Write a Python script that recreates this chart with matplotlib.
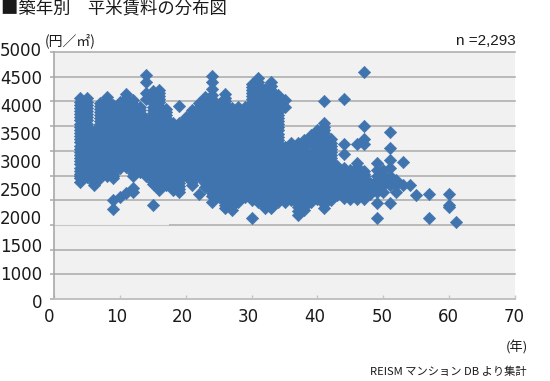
import matplotlib
matplotlib.use("Agg")
from matplotlib import pyplot as plt

plt.rcParams['font.family'] = ['Noto Sans CJK JP', 'DejaVu Sans']

ages = [4, 5, 6, 7, 8, 9, 10, 11, 12, 13, 14, 15, 16, 17, 18, 19, 20, 21, 22, 23, 24, 25, 26, 27, 28, 29, 30, 31, 32,
        33, 34, 35, 36, 37, 38, 39, 40, 41, 42, 43, 44, 45, 46, 47, 48, 49, 50, 51, 52, 53, 54, 55, 57, 60, 61]

# rent values per building age (dense middle is estimated)
rents = [
    [4060, 3930, 3800, 3680, 3550, 3420, 3300, 3170, 3040, 2920, 2790, 2660, 2540, 2450, 2360],
    [4060, 3930, 3800, 3680, 3550, 3420, 3300, 3170, 3040, 2920, 2790, 2660, 2560, 2465],
    [3410, 3300, 3170, 3040, 2920, 2790, 2660, 2540, 2410, 2300],
    [3960, 3850, 3720, 3600, 3480, 3360, 3240, 3120, 2990, 2860, 2740, 2610, 2520, 2440],
    [4090, 3960, 3830, 3700, 3580, 3450, 3320, 3190, 3060, 2930, 2800, 2680, 2590, 2500],
    [3920, 3800, 3680, 3550, 3420, 3300, 3170, 3040, 2920, 2790, 2660, 2540, 2440, 2000, 1820],
    [3990, 3860, 3730, 3600, 3480, 3360, 3230, 3110, 2980, 2860, 2740, 2650, 2070],
    [4140, 4010, 3880, 3750, 3620, 3500, 3370, 3240, 3120, 2990, 2860, 2740, 2670, 2140],
    [4020, 3890, 3760, 3640, 3510, 3380, 3260, 3130, 3000, 2880, 2750, 2620, 2500, 2240, 2170],
    [3885, 3760, 3640, 3510, 3380, 3260, 3130, 3000, 2880, 2750, 2650, 2570],
    [4525, 4390, 4160, 4040, 3650, 3520, 3400, 3270, 3140, 3010, 2890, 2760, 2630, 2500],
    [4220, 4090, 3960, 3830, 3700, 3580, 3450, 3320, 3190, 3060, 2930, 2800, 2680, 2550, 2430, 2320, 1900],
    [4235, 4110, 3980, 3850, 3720, 3590, 3470, 3340, 3210, 3080, 2950, 2830, 2700, 2570, 2440, 2320, 2200],
    [3850, 3720, 3590, 3470, 3340, 3210, 3080, 2950, 2830, 2700, 2570, 2440, 2300],
    [3555, 3430, 3300, 3170, 3040, 2920, 2790, 2660, 2540, 2410, 2300, 2200],
    [3900, 3555, 3430, 3300, 3170, 3040, 2920, 2790, 2660, 2540, 2410, 2280, 2160],
    [3680, 3550, 3420, 3300, 3170, 3040, 2920, 2790, 2660, 2580, 2500],
    [3820, 3690, 3560, 3430, 3310, 3180, 3050, 2920, 2800, 2670, 2540, 2420, 2300],
    [3960, 3830, 3700, 3580, 3450, 3320, 3190, 3060, 2930, 2800, 2680, 2580, 2480, 2120],
    [4090, 3960, 3830, 3700, 3580, 3450, 3320, 3190, 3060, 2930, 2800, 2680, 2550, 2410, 2270],
    [4505, 4390, 4260, 4120, 3990, 3860, 3730, 3610, 3480, 3350, 3220, 3090, 2970, 2840, 2710, 2580, 2460, 2330, 2200, 2080, 1965],
    [3950, 3820, 3690, 3560, 3430, 3310, 3180, 3050, 2920, 2800, 2670, 2540, 2420, 2290, 2180, 2070],
    [4140, 4010, 3880, 3750, 3620, 3500, 3370, 3240, 3120, 2990, 2860, 2740, 2610, 2480, 2360, 2230, 2100, 1970, 1835],
    [3860, 3730, 3600, 3480, 3360, 3230, 3110, 2980, 2860, 2740, 2610, 2480, 2360, 2230, 2100, 1970, 1800],
    [3885, 3760, 3640, 3510, 3380, 3260, 3130, 3000, 2880, 2750, 2620, 2500, 2370, 2240, 2110, 1965],
    [3885, 3760, 3640, 3510, 3380, 3260, 3130, 3000, 2880, 2750, 2620, 2500, 2370, 2240, 2150, 2070],
    [4360, 4240, 4110, 3980, 3850, 3720, 3590, 3470, 3340, 3210, 3080, 2950, 2830, 2700, 2570, 2440, 2320, 2190, 2090, 2000, 1635],
    [4465, 4340, 4210, 4080, 3950, 3820, 3700, 3570, 3440, 3310, 3180, 3060, 2930, 2800, 2670, 2540, 2420, 2290, 2160, 2060, 1965],
    [4260, 4130, 4000, 3880, 3750, 3620, 3500, 3370, 3240, 3120, 2990, 2860, 2740, 2610, 2480, 2360, 2230, 2100, 1970, 1835],
    [4390, 4240, 4110, 3980, 3850, 3720, 3590, 3470, 3340, 3210, 3080, 2950, 2830, 2700, 2570, 2440, 2320, 2190, 2060, 1940, 1835],
    [4120, 3990, 3860, 3730, 3610, 3480, 3350, 3220, 3090, 2970, 2840, 2710, 2580, 2460, 2330, 2200, 2080, 1965],
    [4020, 3880, 3080, 2950, 2830, 2700, 2570, 2440, 2320, 2190, 2060, 1965],
    [3150, 3020, 2900, 2770, 2640, 2520, 2390, 2260, 2130, 2000],
    [3150, 3020, 2900, 2770, 2640, 2520, 2390, 2260, 2130, 2000, 1860, 1695],
    [3210, 3080, 2950, 2830, 2700, 2570, 2440, 2320, 2190, 2060, 1930, 1800],
    [3310, 3180, 2950, 2830, 2700, 2570, 2440, 2320, 2190, 2060, 1965],
    [3430, 3300, 3170, 3040, 2920, 2790, 2660, 2540, 2410, 2280, 2150, 2030],
    [4010, 3555, 3430, 3300, 3170, 3040, 2920, 2790, 2660, 2540, 2410, 2280, 2150, 2000, 1835],
    [3230, 3100, 2980, 2860, 2740, 2610, 2480, 2360, 2230, 2100, 2000],
    [2700, 2570, 2440, 2320, 2190, 2100],
    [4040, 3130, 2945, 2650, 2530, 2400, 2280, 2160, 2050],
    [2610, 2480, 2360, 2230, 2120, 2030],
    [3130, 2745, 2610, 2480, 2360, 2230, 2120, 2030],
    [4605, 3500, 3245, 3130, 2600, 2480, 2360, 2230, 2120, 2030],
    [2340, 2240, 2130],
    [2745, 2610, 2500, 2400, 2300, 2170, 1940, 1635],
    [2610, 2500, 2400, 2300, 2170],
    [3380, 3050, 2810, 2645, 2500, 2400, 2300, 1940],
    [2400, 2300, 2170],
    [2765, 2300],
    [2300],
    [2100],
    [2120, 1635],
    [2120, 1900, 1860],
    [1550],
]

# more of the estimated points inside the solid part of the cloud
dense_ages = [4, 5, 6, 7, 8, 9, 10, 11, 12, 13, 14, 15, 16, 17, 18, 19, 20, 21, 22, 23, 24, 25, 26, 27, 28, 29, 30, 31,
              32, 33, 34, 36, 37, 38, 39, 40, 41, 42, 43, 44, 45, 46, 47]
dense_rents = [
    [3995, 3865, 3740, 3615, 3485, 3360, 3235, 3105, 2980, 2855, 2725, 2600, 2495],
    [3995, 3865, 3740, 3615, 3485, 3360, 3235, 3105, 2980, 2855, 2725, 2610],
    [3355, 3235, 3105, 2980, 2855, 2725, 2600, 2475, 2355],
    [3905, 3785, 3660, 3540, 3420, 3300, 3180, 3055, 2925, 2800, 2675, 2565],
    [4025, 3895, 3765, 3640, 3515, 3385, 3255, 3125, 2995, 2865, 2740, 2635],
    [3860, 3740, 3615, 3485, 3360, 3235, 3105, 2980, 2855, 2725, 2600, 2490],
    [3925, 3795, 3665, 3540, 3420, 3295, 3170, 3045, 2920, 2800, 2695],
    [4075, 3945, 3815, 3685, 3560, 3435, 3305, 3180, 3055, 2925, 2800, 2705],
    [3955, 3825, 3700, 3575, 3445, 3320, 3195, 3065, 2940, 2815, 2685, 2560],
    [3820, 3700, 3575, 3445, 3320, 3195, 3065, 2940, 2815, 2700, 2610],
    [3585, 3460, 3335, 3205, 3075, 2950, 2825, 2695, 2565],
    [4155, 4025, 3895, 3765, 3640, 3515, 3385, 3255, 3125, 2995, 2865, 2740, 2615, 2490, 2375],
    [4170, 4045, 3915, 3785, 3655, 3530, 3405, 3275, 3145, 3015, 2890, 2765, 2635, 2505, 2380, 2260],
    [3785, 3655, 3530, 3405, 3275, 3145, 3015, 2890, 2765, 2635, 2505, 2370],
    [3490, 3365, 3235, 3105, 2980, 2855, 2725, 2600, 2475, 2355, 2250],
    [3490, 3365, 3235, 3105, 2980, 2855, 2725, 2600, 2475, 2345, 2220],
    [3615, 3485, 3360, 3235, 3105, 2980, 2855, 2725, 2620, 2540],
    [3755, 3625, 3495, 3370, 3245, 3115, 2985, 2860, 2735, 2605, 2480, 2360],
    [3895, 3765, 3640, 3515, 3385, 3255, 3125, 2995, 2865, 2740, 2630, 2530],
    [4025, 3895, 3765, 3640, 3515, 3385, 3255, 3125, 2995, 2865, 2740, 2615, 2480, 2340],
    [4055, 3925, 3795, 3670, 3545, 3415, 3285, 3155, 3030, 2905, 2775, 2645, 2520, 2395, 2265, 2140],
    [3885, 3755, 3625, 3495, 3370, 3245, 3115, 2985, 2860, 2735, 2605, 2480, 2355, 2235, 2125],
    [4075, 3945, 3815, 3685, 3560, 3435, 3305, 3180, 3055, 2925, 2800, 2675, 2545, 2420, 2295, 2165, 2035, 1900],
    [3795, 3665, 3540, 3420, 3295, 3170, 3045, 2920, 2800, 2675, 2545, 2420, 2295, 2165, 2035, 1885],
    [3820, 3700, 3575, 3445, 3320, 3195, 3065, 2940, 2815, 2685, 2560, 2435, 2305, 2175, 2040],
    [3820, 3700, 3575, 3445, 3320, 3195, 3065, 2940, 2815, 2685, 2560, 2435, 2305, 2195, 2110],
    [4300, 4175, 4045, 3915, 3785, 3655, 3530, 3405, 3275, 3145, 3015, 2890, 2765, 2635, 2505, 2380, 2255, 2140, 2045],
    [4400, 4275, 4145, 4015, 3885, 3760, 3635, 3505, 3375, 3245, 3120, 2995, 2865, 2735, 2605, 2480, 2355, 2225, 2110, 2010],
    [4195, 4065, 3940, 3815, 3685, 3560, 3435, 3305, 3180, 3055, 2925, 2800, 2675, 2545, 2420, 2295, 2165, 2035, 1900],
    [4315, 4175, 4045, 3915, 3785, 3655, 3530, 3405, 3275, 3145, 3015, 2890, 2765, 2635, 2505, 2380, 2255, 2125, 2000, 1885],
    [4055, 3925, 3795, 3670, 3545, 3415, 3285, 3155, 3030, 2905, 2775, 2645, 2520, 2395, 2265, 2140, 2020],
    [3085, 2960, 2835, 2705, 2580, 2455, 2325, 2195, 2065],
    [3085, 2960, 2835, 2705, 2580, 2455, 2325, 2195, 2065, 1930, 1780],
    [3145, 3015, 2890, 2765, 2635, 2505, 2380, 2255, 2125, 1995, 1865],
    [3245, 2890, 2765, 2635, 2505, 2380, 2255, 2125, 2010],
    [3365, 3235, 3105, 2980, 2855, 2725, 2600, 2475, 2345, 2215, 2090],
    [3490, 3365, 3235, 3105, 2980, 2855, 2725, 2600, 2475, 2345, 2215, 2075, 1920],
    [3165, 3040, 2920, 2800, 2675, 2545, 2420, 2295, 2165, 2050],
    [2635, 2505, 2380, 2255, 2145],
    [2590, 2465, 2340, 2220, 2105],
    [2545, 2420, 2295, 2175, 2075],
    [2675, 2545, 2420, 2295, 2175, 2075],
    [2540, 2420, 2295, 2175, 2075],
]

y_tick_values = [0, 500, 1000, 1500, 2000, 2500, 3000, 3500, 4000, 4500, 5000]
x_tick_values = [0, 10, 20, 30, 40, 50, 60, 70]
y_labels = ["5000", "4500", "4000", "3500", "3000", "2500", "2000", "1500", "1000", "0"]
x_labels = ["0", "10", "20", "30", "40", "50", "60", "70"]
W, H = 550, 381
# the printed labels do not line up with the ticks, so they go by pixel
y_label_pos = [51, 79, 107, 135, 163, 191, 219, 247, 275, 303]
x_label_pos = [49.5, 117, 182, 248, 315, 382, 448, 514]

fig = plt.figure(figsize=(W / 100, H / 100), dpi=100)
ax = fig.add_axes([54 / W, 1 - 299 / H, 461 / W, 247 / H])
ax.set_facecolor("#f1f1f1")
ax.set_xlim(0, 70)
ax.set_ylim(0, 5000)

for v in y_tick_values:
    if v == 1500:
        # this line is fainter up to about age 17
        ax.hlines(v, 0, 17.5, color="#c8c8c8", lw=0.8, zorder=1)
        ax.hlines(v, 17.5, 70, color="#aaaaaa", lw=1.1, zorder=1)
    else:
        ax.axhline(v, color="#aaaaaa", lw=1.1, zorder=1, clip_on=False)

xs = []
ys = []
for a, r in zip(ages, rents):
    xs += [a] * len(r)
    ys += r
for a, r in zip(dense_ages, dense_rents):
    xs += [a] * len(r)
    ys += r
ax.scatter(xs, ys, marker="D", s=40, color="#3f74ae", edgecolors="#3f74ae", linewidths=0.4, zorder=3)

for s in ["top", "right"]:
    ax.spines[s].set_visible(False)
ax.spines["left"].set_color("#a8a8a8")
ax.spines["bottom"].set_color("#c4c4c4")
ax.spines["left"].set_linewidth(1.2)
ax.spines["bottom"].set_linewidth(1.2)
ax.set_yticks(y_tick_values)
ax.set_xticks(x_tick_values)
ax.tick_params(axis="y", length=3, width=1.1, color="#aaaaaa", labelleft=False)
ax.tick_params(axis="x", direction="in", length=3, width=1, color="#c4c4c4", labelbottom=False)


def put(x, y, s, size, ha="center", **kw):
    fig.text(x / W, 1 - y / H, s, fontsize=size, ha=ha, va="center", color="#1a1a1a", **kw)


for s, y in zip(y_labels, y_label_pos):
    put(42, y, s, 12, ha="right", family="DejaVu Sans")
for s, x in zip(x_labels, x_label_pos):
    put(x, 317, s, 12, family="DejaVu Sans")

put(1, 9, "■築年別　平米賃料の分布図", 12.5, ha="left")
put(45, 41, "(円／㎡)", 10, ha="left")
put(516, 41, "n =2,293", 11, ha="right", family="Liberation Sans")
put(528, 347, "(年)", 9.5, ha="right")
put(527, 372, "REISM マンション DB より集計", 8.1, ha="right")

fig.savefig("out.png", dpi=100)
